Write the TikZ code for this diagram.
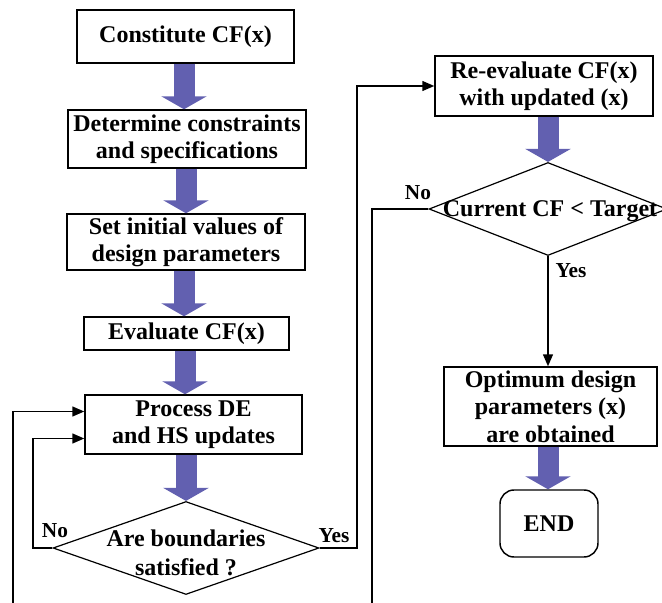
\documentclass[tikz,border=0pt]{standalone}
\usepackage{fontspec}
\setmainfont{Liberation Serif}
\usetikzlibrary{shapes.geometric,arrows.meta,calc}
\newdimen\upx
\upx=0.75pt
\definecolor{bigblue}{RGB}{98,96,176}
\tikzset{
  stepbox/.style={draw=black, line width=1.1pt, fill=white, align=center,
    inner sep=0pt, font=\fontsize{18}{20.5}\selectfont\bfseries},
  decision/.style={diamond, draw=black, line width=0.9pt, fill=white, inner sep=0pt},
  dtext/.style={align=center, inner sep=0pt, font=\fontsize{18}{21.5}\selectfont\bfseries},
  lbl/.style={inner sep=0pt, font=\fontsize{16}{18}\selectfont\bfseries},
  bigarrow/.style={draw=bigblue, line width=15.75pt,
    -{Triangle[length=9.75pt, width=33.75pt]}},
  thinarrow/.style={draw=black, line width=1.1pt,
    -{Triangle[length=9pt, width=7.5pt]}},
  thinline/.style={draw=black, line width=1.1pt},
}
\begin{document}
\begin{tikzpicture}[x=0.75pt, y=-0.75pt]
\useasboundingbox (0,0) rectangle (662,603);
\clip (0,0) rectangle (662,603);
\fill[white] (0,0) rectangle (662,603);

% left column
\node[stepbox, minimum width=217\upx, minimum height=53\upx] (b1) at (185.5,36.5) {Constitute CF(x)};
\node[stepbox, minimum width=238\upx, minimum height=58\upx] (b2) at (187,139) {Determine constraints\\and specifications};
\node[stepbox, minimum width=238\upx, minimum height=56\upx] (b3) at (186,242) {Set initial values of\\design parameters};
\node[stepbox, minimum width=205\upx, minimum height=33\upx] (b4) at (186.5,333.5) {Evaluate CF(x)};
\node[stepbox, minimum width=217\upx, minimum height=59\upx] (b5) at (193.5,424.5) {Process DE\\and HS updates};
\node[decision, minimum width=266\upx, minimum height=93\upx] (d1) at (186,548) {};
\node[dtext] (d1t) at (186,553) {Are boundaries\\satisfied ?};

% right column
\node[stepbox, minimum width=218\upx, minimum height=60\upx] (b6) at (544,86) {Re-evaluate CF(x)\\with updated (x)};
\node[decision, minimum width=238\upx, minimum height=93\upx] (d2) at (548,209) {};
\node[dtext] (d2t) at (550,211) {Current CF < Target};
\node[stepbox, minimum width=213\upx, minimum height=79\upx] (b7) at (550.5,406.5) {Optimum design\\parameters (x)\\are obtained};
\node[stepbox, rounded corners=10.5pt, minimum width=98\upx, minimum height=67\upx] (e) at (549,523.5) {END};

% column coordinates for the big arrows
\coordinate (c184) at (184,0);
\coordinate (c185) at (185,0);
\coordinate (c186) at (186,0);
\coordinate (c548) at (548,0);

% big arrows
\draw[bigarrow] (b1.south -| c184) -- (b2.north -| c184);
\draw[bigarrow] (b2.south -| c186) -- (b3.north -| c186);
\draw[bigarrow] (b3.south -| c184) -- (b4.north -| c184);
\draw[bigarrow] (b4.south -| c185) -- (b5.north -| c185);
\draw[bigarrow] (b5.south -| c186) -- (d1.north -| c186);
\draw[bigarrow] (b6.south -| c548) -- (d2.north -| c548);
\draw[bigarrow] (b7.south -| c548) -- (e.north -| c548);

% connectors
\coordinate (lb) at (13,615);
\coordinate (rb) at (372,615);
\coordinate (lnx) at (33,548);
\coordinate (ryx) at (357,548);
\draw[thinarrow] (d1.west) -- (lnx) |- ($(b5.west)+(0,14)$);
\draw[thinarrow] (lb) |- ($(b5.west)+(0,-13)$);
\draw[thinarrow] (d1.east) -- (ryx) |- (b6.west);
\draw[thinline] (d2.west) -| (rb);
\draw[thinarrow] (d2.south) -- (d2.south |- b7.north);

% labels
\node[lbl] (nol) at (55,531) {No};
\node[lbl] (yesl) at (334,536) {Yes};
\node[lbl] (nor) at (418,193) {No};
\node[lbl] (yesr) at (571,271) {Yes};
\end{tikzpicture}
\end{document}
